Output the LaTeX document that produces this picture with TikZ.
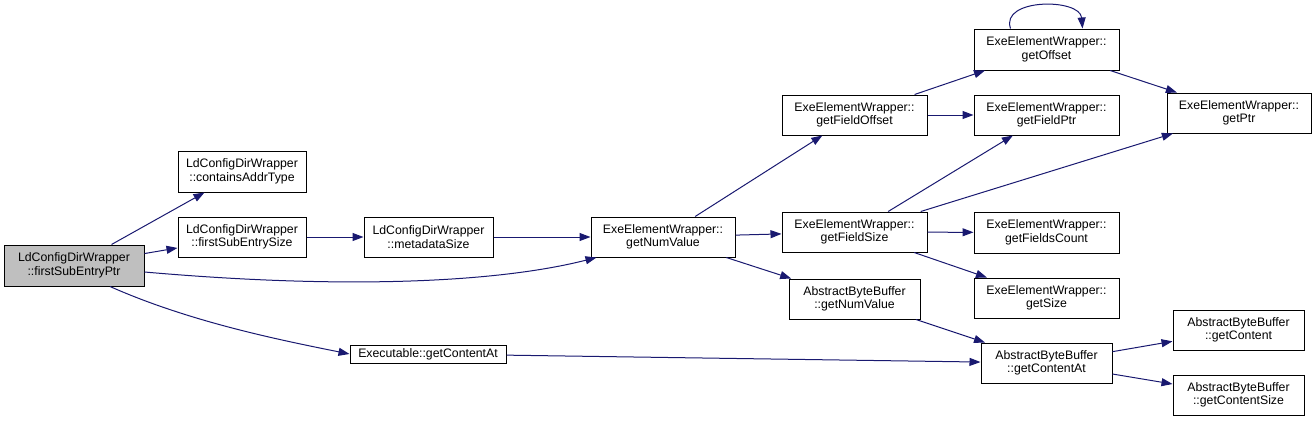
\documentclass[tikz,border=0pt]{standalone}
\usepackage{fontspec}
\setmainfont{Liberation Sans}
\usetikzlibrary{arrows.meta}
\definecolor{edgeblue}{HTML}{191970}
\definecolor{mainfill}{HTML}{BFBFBF}
\begin{document}
\begin{tikzpicture}[x=1pt,y=-1pt,
  box/.style={draw=black, fill=white, line width=1pt, align=center, inner sep=0pt,
    font=\fontsize{12.3}{13.6}\selectfont},
  call/.style={draw=edgeblue, line width=1pt, -{Triangle[length=11pt,width=8pt]}}]
\useasboundingbox (0,0) rectangle (1316,421);
% nodes
\node[box, fill=mainfill, minimum width=140pt, minimum height=41pt] (fsep) at (74,265.5) {LdConfigDirWrapper\\::firstSubEntryPtr};
\node[box, minimum width=128pt, minimum height=41pt] (cat) at (242,171.5) {LdConfigDirWrapper\\::containsAddrType};
\node[box, minimum width=128pt, minimum height=40pt] (fses) at (242,237) {LdConfigDirWrapper\\::firstSubEntrySize};
\node[box, minimum width=129pt, minimum height=40pt] (mds) at (428.5,237) {LdConfigDirWrapper\\::metadataSize};
\node[box, minimum width=156pt, minimum height=18pt] (exe) at (428,354) {Executable::getContentAt};
\node[box, minimum width=144pt, minimum height=40pt] (gnv) at (663,237) {ExeElementWrapper::\\getNumValue};
\node[box, minimum width=145pt, minimum height=40pt] (gfo) at (854.5,115) {ExeElementWrapper::\\getFieldOffset};
\node[box, minimum width=145pt, minimum height=40pt] (gfs) at (854.5,232) {ExeElementWrapper::\\getFieldSize};
\node[box, minimum width=131pt, minimum height=40pt] (abbnv) at (854.5,299) {AbstractByteBuffer\\::getNumValue};
\node[box, minimum width=145pt, minimum height=41pt] (gof) at (1046.5,49.5) {ExeElementWrapper::\\getOffset};
\node[box, minimum width=145pt, minimum height=40pt] (gfp) at (1046.5,115) {ExeElementWrapper::\\getFieldPtr};
\node[box, minimum width=144pt, minimum height=40pt] (gptr) at (1239,113) {ExeElementWrapper::\\getPtr};
\node[box, minimum width=145pt, minimum height=41pt] (gfc) at (1046.5,232.5) {ExeElementWrapper::\\getFieldsCount};
\node[box, minimum width=145pt, minimum height=40pt] (gsz) at (1046.5,298) {ExeElementWrapper::\\getSize};
\node[box, minimum width=131pt, minimum height=40pt] (abbca) at (1046.5,363) {AbstractByteBuffer\\::getContentAt};
\node[box, minimum width=131pt, minimum height=40pt] (gc) at (1238.5,330) {AbstractByteBuffer\\::getContent};
\node[box, minimum width=131pt, minimum height=40pt] (gcs) at (1238.5,395) {AbstractByteBuffer\\::getContentSize};
% edges
\draw[call] (fsep) -- (cat);
\draw[call] (fsep) -- (fses);
\draw[call] ([yshift=-6.5pt]fsep.east) .. controls (350,290) and (500,282) .. ([xshift=6pt]gnv.south west);
\draw[call] ([xshift=36pt]fsep.south) .. controls (190,322) and (280,340) .. (exe.west);
\draw[call] (fses) -- (mds);
\draw[call] (mds) -- (gnv);
\draw[call] (gnv) -- (gfo);
\draw[call] (gnv) -- (gfs);
\draw[call] (gnv) -- (abbnv);
\draw[call] (gfo) -- (gof);
\draw[call] (gfo) -- (gfp);
\draw[call] (gfs) -- (gfp);
\draw[call] (gfs) -- (gptr);
\draw[call] (gfs) -- (gfc);
\draw[call] (gfs) -- (gsz);
\draw[call] ([xshift=-36pt]gof.north) .. controls (1000,-2) and (1080,-2) .. ([xshift=36pt]gof.north);
\draw[call] (gof) -- (gptr);
\draw[call] (abbnv) -- (abbca);
\draw[call] (exe) -- (abbca);
\draw[call] (abbca) -- (gc);
\draw[call] (abbca) -- (gcs);
\end{tikzpicture}
\end{document}
